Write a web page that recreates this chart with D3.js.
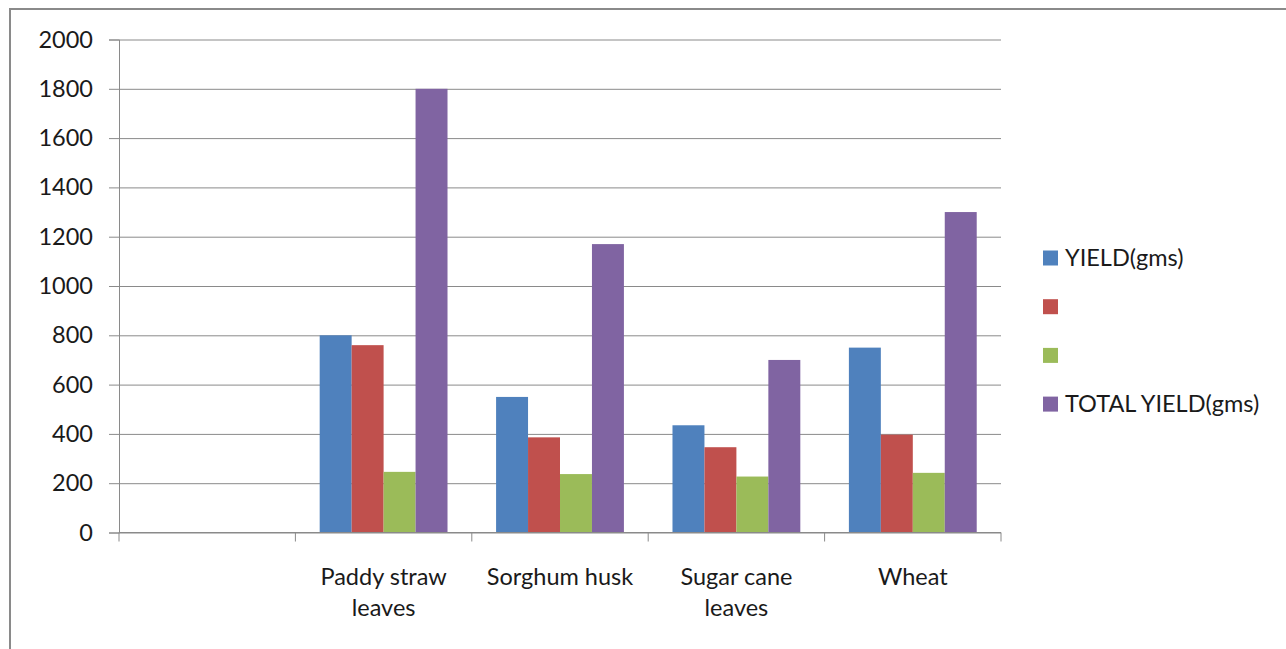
<!DOCTYPE html>
<html>
<head>
<meta charset="utf-8">
<script src="https://cdn.jsdelivr.net/npm/d3@7"></script>
<style>
  html, body { margin: 0; padding: 0; background: #fff; }
  svg { display: block; }
  text { font-family: Lato, "Open Sans", sans-serif; fill: #1a1a1a; }
</style>
</head>
<body>
<svg id="chart" width="1286" height="649"></svg>
<script>
const categories = ["", "Paddy straw leaves", "Sorghum husk", "Sugar cane leaves", "Wheat"];
const seriesNames = ["YIELD(gms)", "", "", "TOTAL YIELD(gms)"];
const seriesColors = ["#4F81BD", "#C0504D", "#9BBB59", "#8064A2"];
const yieldGms = [null, 800, 550, 435, 750];
const series2 = [null, 760, 386, 346, 397];
const series3 = [null, 246, 237, 227, 242];
const totalYield = [null, 1800, 1170, 700, 1300];
const yTicks = [0, 200, 400, 600, 800, 1000, 1200, 1400, 1600, 1800, 2000];

const seriesValues = [yieldGms, series2, series3, totalYield];

const svg = d3.select("#chart");
const W = 1286, H = 649;
const plot = { left: 119, right: 1001, top: 39.5, bottom: 532.5 };
const fontSize = 23.5;

// outer frame (top and left edges visible)
svg.append("rect")
  .attr("x", 10).attr("y", 9)
  .attr("width", W + 20).attr("height", H + 20)
  .attr("fill", "#fff").attr("stroke", "#8a8a8a").attr("stroke-width", 2);

const x = d3.scaleBand().domain(d3.range(categories.length))
  .range([plot.left, plot.right]).padding(0);
const xs = d3.scaleBand().domain(d3.range(seriesNames.length))
  .range([0, x.bandwidth()]).paddingInner(0).paddingOuter(0.76);
const y = d3.scaleLinear().domain([0, 2000]).range([plot.bottom, plot.top]);

// gridlines + y ticks
const yAxis = d3.axisLeft(y).tickValues(yTicks).tickSize(10).tickPadding(16).tickFormat(d3.format("d"));
const yg = svg.append("g").attr("transform", `translate(${plot.left},0)`).call(yAxis);
yg.select(".domain").attr("stroke", "#8a8a8a");
yg.selectAll(".tick line").attr("stroke", "#8a8a8a");
yg.selectAll(".tick text").attr("font-size", fontSize).attr("font-family", "Lato").attr("fill", "#1a1a1a");
yg.selectAll(".tick").append("line")
  .attr("x1", 0).attr("x2", plot.right - plot.left)
  .attr("stroke", "#8a8a8a").attr("stroke-width", 1);

// bars
const barData = [];
categories.forEach((c, i) => {
  seriesValues.forEach((vals, s) => {
    if (vals[i] != null) barData.push({ i, s, v: vals[i] });
  });
});
svg.append("g").selectAll("rect").data(barData).join("rect")
  .attr("x", d => x(d.i) + xs(d.s))
  .attr("width", xs.bandwidth())
  .attr("y", d => y(d.v))
  .attr("height", d => y(0) - y(d.v))
  .attr("fill", d => seriesColors[d.s]);

// x axis
const xg = svg.append("g");
xg.append("line").attr("x1", plot.left).attr("x2", plot.right)
  .attr("y1", y(0)).attr("y2", y(0)).attr("stroke", "#8a8a8a");
const boundaries = d3.range(categories.length + 1).map(k => plot.left + k * x.step());
xg.selectAll("line.tk").data(boundaries).join("line").attr("class", "tk")
  .attr("x1", d => d).attr("x2", d => d)
  .attr("y1", y(0)).attr("y2", y(0) + 9).attr("stroke", "#8a8a8a");

// category labels with wrapping
function wrapLines(text, maxW) {
  const words = text.split(" ");
  if (!text) return [];
  const tmp = svg.append("text").attr("font-size", fontSize);
  const lines = [];
  let line = [];
  words.forEach(w => {
    const test = line.concat([w]).join(" ");
    tmp.text(test);
    if (tmp.node().getComputedTextLength() > maxW && line.length) {
      lines.push(line.join(" "));
      line = [w];
    } else line.push(w);
  });
  if (line.length) lines.push(line.join(" "));
  tmp.remove();
  return lines;
}
categories.forEach((c, i) => {
  const lines = (c === "Sorghum husk" || c === "Wheat") ? [c] : wrapLines(c, 145);
  const t = xg.append("text").attr("text-anchor", "middle").attr("font-size", fontSize)
    .attr("x", x(i) + x.bandwidth() / 2).attr("y", 585);
  lines.forEach((l, k) => {
    t.append("tspan").attr("x", x(i) + x.bandwidth() / 2).attr("dy", k === 0 ? 0 : 31).text(l);
  });
});

// legend
const legend = svg.append("g").attr("transform", "translate(1043,258)");
const lg = legend.selectAll("g").data(seriesNames).join("g")
  .attr("transform", (d, k) => `translate(0,${k * 48.7})`);
lg.append("rect").attr("x", 0).attr("y", -7.5).attr("width", 15).attr("height", 15)
  .attr("fill", (d, k) => seriesColors[k]);
lg.append("text").attr("x", 22).attr("dy", "0.35em").attr("font-size", fontSize).text(d => d);
</script>
</body>
</html>
